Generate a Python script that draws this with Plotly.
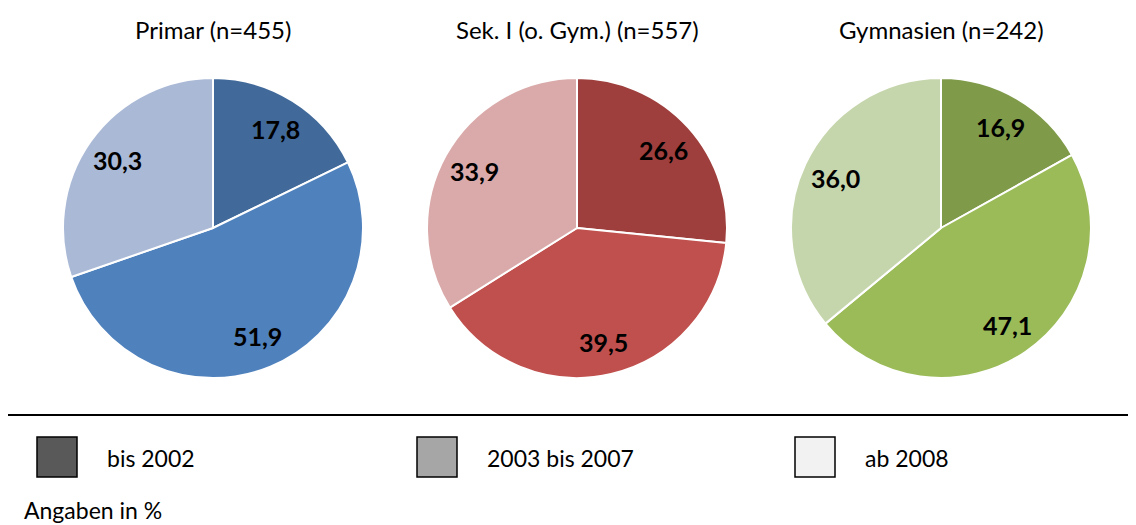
import math
import plotly.graph_objects as go

titles = ["Primar (n=455)", "Sek. I (o. Gym.) (n=557)", "Gymnasien (n=242)"]
categories = ["bis 2002", "2003 bis 2007", "ab 2008"]
primar = [17.8, 51.9, 30.3]
sek1 = [26.6, 39.5, 33.9]
gym = [16.9, 47.1, 36.0]
series = [primar, sek1, gym]

colors = [
    ["#416A9B", "#4F81BD", "#AAB9D6"],
    ["#9E3F3D", "#C0504D", "#DAAAAA"],
    ["#7F9B49", "#9BBB59", "#C6D6AC"],
]
legend_colors = ["#595959", "#A6A6A6", "#F2F2F2"]
FONT = "Lato, 'Open Sans', sans-serif"
W, H = 1136, 525
OFF = 8  # page body margin
centers = [213, 577, 941]
R = 150
cy = 228
LABEL_R = 0.78


def px(x):
    return (x - OFF) / W


def py(y):
    return 1 - (y - OFF) / H


fig = go.Figure()
for vals, cols, cx, t in zip(series, colors, centers, titles):
    fig.add_trace(go.Pie(
        values=vals, labels=categories, sort=False, direction="clockwise", rotation=0,
        marker=dict(colors=cols, line=dict(color="white", width=2)),
        textinfo="none",
        domain=dict(x=[px(cx - R), px(cx + R)], y=[py(cy + R), py(cy - R)]),
        showlegend=False, hoverinfo="label+value",
    ))
    total = sum(vals)
    cum = 0.0
    for v in vals:
        mid = (cum + v / 2) / total * 2 * math.pi
        cum += v
        lx = cx + LABEL_R * R * math.sin(mid)
        ly = cy - LABEL_R * R * math.cos(mid)
        fig.add_annotation(text="<b>" + f"{v:.1f}".replace(".", ",") + "</b>",
                           x=px(lx), y=py(ly), xref="paper", yref="paper", showarrow=False,
                           xanchor="center", yanchor="middle",
                           font=dict(family=FONT, size=25, color="black"))
    fig.add_annotation(text=t, x=px(cx), y=py(30), xref="paper", yref="paper",
                       showarrow=False, font=dict(family=FONT, size=24, color="black"),
                       xanchor="center", yanchor="middle")

shapes = [dict(type="line", xref="paper", yref="paper", x0=px(8), x1=1, y0=py(415), y1=py(415),
               line=dict(color="black", width=2))]
leg_x = [37, 417, 795]
for cat, lc, lx in zip(categories, legend_colors, leg_x):
    shapes.append(dict(type="rect", xref="paper", yref="paper", x0=px(lx), x1=px(lx + 40),
                       y0=py(477), y1=py(437), fillcolor=lc, line=dict(color="black", width=1.5)))
    fig.add_annotation(text=cat, x=px(lx + 68), y=py(458), xref="paper", yref="paper",
                       showarrow=False, xanchor="left", yanchor="middle",
                       font=dict(family=FONT, size=23, color="black"))
fig.add_annotation(text="Angaben in %", x=px(22), y=py(510), xref="paper", yref="paper",
                   showarrow=False, xanchor="left", yanchor="middle",
                   font=dict(family=FONT, size=23, color="black"))

fig.update_layout(width=W, height=H, margin=dict(l=0, r=0, t=0, b=0), shapes=shapes,
                  paper_bgcolor="white", plot_bgcolor="white")
fig.write_html("out.html")
